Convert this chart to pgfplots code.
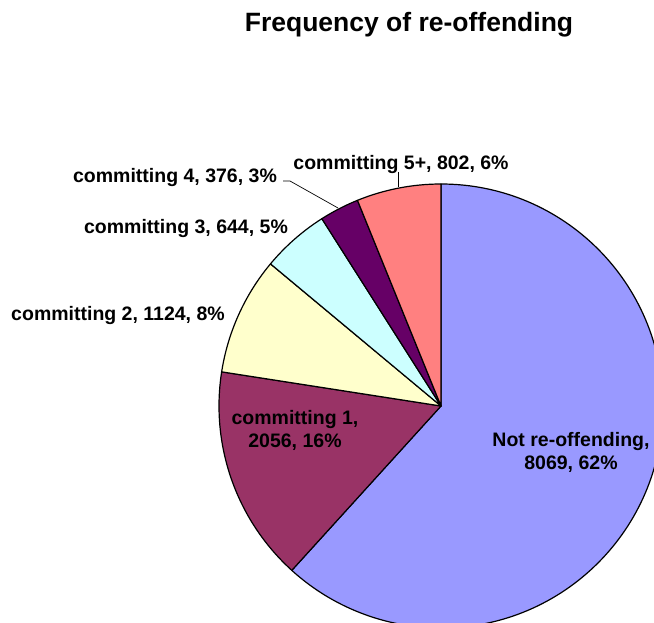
\documentclass[border=0pt]{standalone}
\usepackage{pgfplots}
\pgfplotsset{compat=1.18}
\usepackage{fontspec}
\setmainfont{Liberation Sans}
\definecolor{cNot}{HTML}{9999FF}
\definecolor{cOne}{HTML}{993366}
\definecolor{cTwo}{HTML}{FFFFCC}
\definecolor{cThree}{HTML}{CCFFFF}
\definecolor{cFour}{HTML}{660066}
\definecolor{cFive}{HTML}{FF8080}
\tikzset{lbl/.style={font=\bfseries\fontsize{19.5}{23}\selectfont, text=black, inner sep=0pt}}
\begin{document}
\begin{tikzpicture}
\begin{axis}[
  width=654pt, height=623pt, scale only axis,
  xmin=0, xmax=654, ymin=0, ymax=623, y dir=reverse,
  hide axis, clip=true,
]
\addplot[draw=none] coordinates {(0,0) (654,623)};
\pgfplotsextra{
  \xdef\startang{90}
  \foreach \v/\c in {8069/cNot, 2056/cOne, 1124/cTwo, 644/cThree, 376/cFour, 802/cFive} {
    \pgfmathsetmacro\endang{\startang - (\v/13071)*360}
    \filldraw[fill=\c, draw=black, line width=1.2pt, line join=round]
      (axis cs:441,406) -- ++(\startang:222pt)
      arc[start angle=\startang, end angle=\endang, radius=222pt] -- cycle;
    \xdef\startang{\endang}
  }
}
\draw[black, line width=0.7pt] (axis cs:398,172) -- (axis cs:398,187);
\draw[black, line width=0.7pt] (axis cs:283,181) -- (axis cs:290,181) -- (axis cs:338,208);
\node[font=\bfseries\fontsize{26.5}{30}\selectfont, inner sep=0pt] at (axis cs:409,25) {Frequency of re-offending};
\node[lbl] at (axis cs:401,165) {committing 5+, 802, 6\%};
\node[lbl] at (axis cs:175,178) {committing 4, 376, 3\%};
\node[lbl] at (axis cs:186,229) {committing 3, 644, 5\%};
\node[lbl] at (axis cs:118,316) {committing 2, 1124, 8\%};
\node[lbl, align=center] at (axis cs:295,430) {committing 1,\\2056, 16\%};
\node[lbl, align=center] at (axis cs:571,452) {Not re-offending,\\8069, 62\%};
\end{axis}
\pgfresetboundingbox
\path[use as bounding box] (current axis.south west) rectangle (current axis.north east);
\end{tikzpicture}
\end{document}
